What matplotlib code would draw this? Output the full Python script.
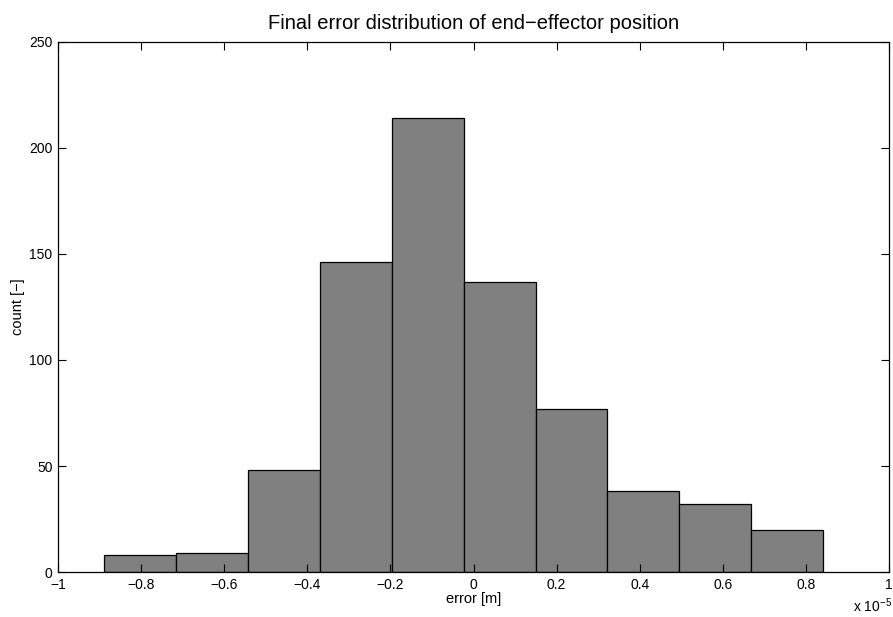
import matplotlib
matplotlib.use("Agg")
import matplotlib.pyplot as plt
import numpy as np

# histogram data (x values in units of 1e-5 m)
bin_start = -0.8893
bin_width = 0.1731
counts = [8, 9, 48, 146, 214, 137, 77, 38, 32, 20]
xticks = [-1, -0.8, -0.6, -0.4, -0.2, 0, 0.2, 0.4, 0.6, 0.8, 1]
yticks = [0, 50, 100, 150, 200, 250]

plt.rcParams['font.family'] = ['Liberation Sans', 'DejaVu Sans']

fig = plt.figure(figsize=(8.93, 6.17), dpi=100)
ax = fig.add_axes([0.065, 0.0729, 0.9305, 0.8591])

lefts = bin_start + bin_width * np.arange(len(counts))
ax.bar(lefts, counts, width=bin_width, align='edge',
       color='#808080', edgecolor='black', linewidth=0.9)

ax.set_xlim(-1, 1)
ax.set_ylim(0, 250)
ax.set_xticks(xticks)
ax.set_xticklabels([("%g" % t).replace("-", "\u2212") for t in xticks])
ax.set_yticks(yticks)
ax.tick_params(direction='in', length=5.5, width=0.8, top=True, right=True,
               labelsize=10, pad=4)
for s in ax.spines.values():
    s.set_linewidth(0.9)

ax.set_title("Final error distribution of end\u2212effector position",
             fontsize=14.5, pad=9)
ax.set_xlabel("error [m]", fontsize=10.5, labelpad=0)
ax.set_ylabel("count [\u2212]", fontsize=10.5, labelpad=3)
fig.text(0.9995, 0.008, r"x 10$^{\mathregular{-5}}$", fontsize=10,
         ha='right', va='baseline')

fig.savefig("out.png", dpi=100)
